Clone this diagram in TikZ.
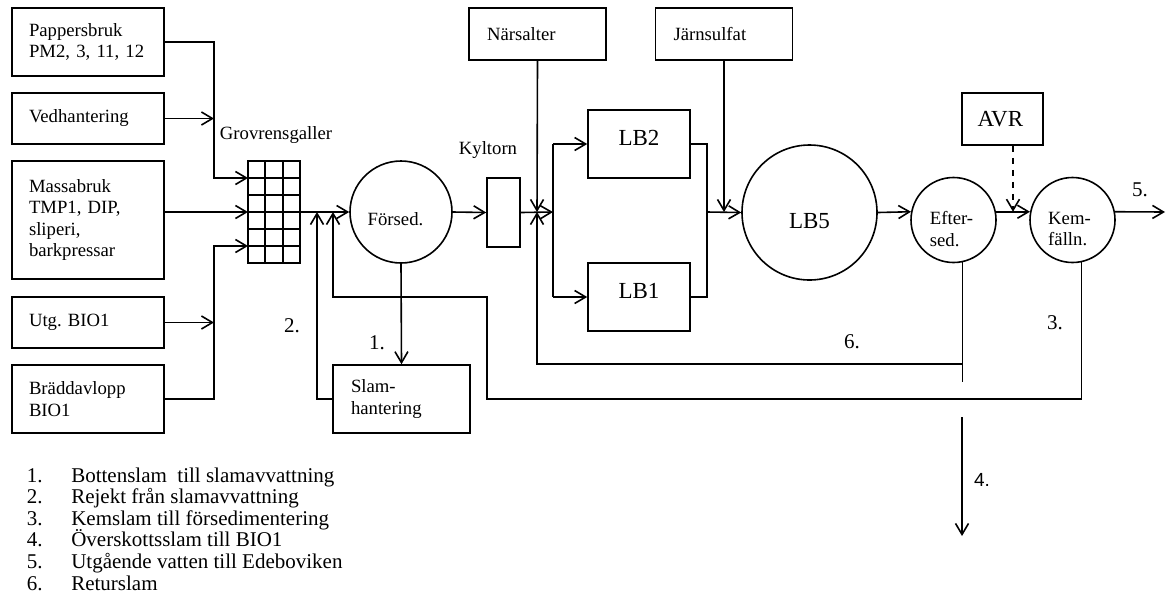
\documentclass[tikz,border=0pt]{standalone}
\usepackage{fontspec}
\setmainfont{Liberation Serif}
\newfontfamily\arialfont{Liberation Sans}
\usetikzlibrary{positioning, arrows.meta}

\tikzset{
  pil/.style={-{Straight Barb[length=5.5pt,width=6.5pt]}},
  kalla/.style={draw, rectangle, minimum width=76pt, minimum height=#1, text width=59pt, inner xsep=8.5pt, align=left},
  tillsats/.style={draw, rectangle, minimum width=68.5pt, minimum height=26pt, text width=50.5pt, inner xsep=9pt, align=left},
  bassang/.style={draw, rectangle, minimum width=51pt, minimum height=34pt, text depth=6pt, font=\fontsize{11.5}{13}\selectfont},
  avrbox/.style={draw, rectangle, minimum width=40.5pt, minimum height=26pt, text width=25pt, inner xsep=7.75pt, align=left, font=\fontsize{11.5}{13}\selectfont},
  rund/.style={draw, circle, minimum size=#1, inner sep=0pt},
  etikett/.style={font=\fontsize{10.5}{12}\selectfont},
  legend/.style={anchor=base west, inner sep=0pt, font=\fontsize{10.5}{12}\selectfont}
}

\begin{document}
\begin{tikzpicture}[x=0.5pt, y=-0.5pt, line width=0.8pt, font=\fontsize{9.35}{10.6}\selectfont]
  \useasboundingbox (0,0) rectangle (1166,606);

  \node[kalla=34pt] (pappers) at (88,42) {Pappersbruk\\PM2, 3, 11, 12};
  \node[kalla=25.5pt] (ved) at (88,118.5) {Vedhantering};
  \node[kalla=59pt] (massa) at (88,220) {Massabruk\\TMP1, DIP,\\sliperi,\\barkpressar};
  \node[kalla=25.5pt] (utg) at (88,322.5) {Utg.\ BIO1};
  \node[kalla=34pt] (bradd) at (88,399) {Bräddavlopp\\BIO1};

  \node[draw, minimum width=26pt, minimum height=51pt, inner sep=0pt] (galler) at (274,212) {};
  \foreach \xx in {265,283} \draw (\xx,161) -- (\xx,263);
  \foreach \yy in {178,195,212,229,246} \draw (248,\yy) -- (300,\yy);
  \node (gallertext) at (276,135) {Grovrensgaller};

  \node[rund=51pt, label={[xshift=-2.75pt, yshift=-3.5pt]center:Försed.}] (forsed) at (401,212) {};
  \node[draw, minimum width=16.5pt, minimum height=34.5pt, inner sep=0pt] (kyl) at (503.5,212.5) {};
  \node (kyltext) at (488,150) {Kyltorn};
  \node[tillsats] (nars) at (537.5,34) {Närsalter};
  \node[tillsats] (jarn) at (724,34) {Järnsulfat};
  \node[bassang] (lb2) at (639,144) {LB2};
  \node[bassang] (lb1) at (639,297) {LB1};
  \node[rund=67.5pt, label={[yshift=-4.5pt, font=\fontsize{11.5}{13}\selectfont]center:LB5}] (lb5) at (809.5,212.5) {};
  \node[rund=42.5pt, label={[align=left, xshift=-1pt, yshift=-4.5pt]center:Efter-\\sed.}] (efter) at (953.5,220) {};
  \node[rund=42.5pt, label={[align=left, xshift=-1.5pt, yshift=-4.5pt]center:Kem-\\fälln.}] (kem) at (1072.5,220) {};
  \node[avrbox] (avr) at (1002.5,119) {AVR};
  \node[tillsats, minimum height=34pt] (slam) at (401.5,399) {Slam-\\hantering};

  \coordinate (g1) at (248,178);
  \coordinate (g3) at (248,212);
  \coordinate (g5) at (248,246);
  \coordinate (samlo) at (214,178);
  \coordinate (samlu) at (214,246);
  \coordinate (delning) at (553,212);
  \coordinate (sammanf) at (707,212);
  \coordinate (retur2) at (317,212);
  \coordinate (retur3) at (333,212);
  \coordinate (retur6) at (537,212);
  \coordinate (r6) at (962,364);
  \coordinate (ut4a) at (962,417);
  \coordinate (ut4b) at (962,536);
  \coordinate (utlopp) at (1165,212);
  \coordinate (avrut) at ([xshift=5.25pt]avr.south);

  \draw[pil] (pappers.east) -| (samlo) -- (g1);
  \draw[pil] (ved.east) -- (ved.east -| samlo);
  \draw[pil] (massa.east |- g3) -- (g3);
  \draw[pil] (utg.east) -- (utg.east -| samlu);
  \draw[pil] (bradd.east) -| (samlu) -- (g5);

  \draw[pil] (galler.east) -- (forsed.west);
  \draw[pil] (forsed.east) -- (kyl.west);
  \draw[pil] (kyl.east) -- (delning);
  \draw (delning |- lb2) -- (delning |- lb1);
  \draw[pil] (delning |- lb2) -- (lb2.west);
  \draw[pil] (delning |- lb1) -- (lb1.west);
  \draw (lb2.east) -| (sammanf) |- (lb1.east);
  \draw[pil] (sammanf) -- (lb5.west);
  \draw[pil] (nars.south) -- (retur6);
  \draw[pil] (jarn.south) -- (jarn.south |- sammanf);
  \draw[pil] (lb5.east) -- (efter.169);
  \draw[pil] (efter.11) -- (kem.169);
  \draw[pil, dashed] (avrut) -- (avrut |- kem.169);
  \draw[pil] (kem.11) -- (utlopp);

  \draw[pil] (forsed.south) -- (slam.north);
  \draw[pil] (slam.west) -| (retur2);
  \draw[pil] (kem.-78) |- (487,399) -- (487,297) -| (retur3);
  \draw (efter.-78) -- ++(0,120);
  \draw[pil] (r6) -| (retur6);
  \draw[pil] (ut4a) -- (ut4b);

  \node[etikett] (n1) at (377,343) {1.};
  \node[etikett] (n2) at (292,326) {2.};
  \node[etikett] (n3) at (1055,323) {3.};
  \node[etikett, font=\arialfont\fontsize{9.5}{11}\selectfont] (n4) at (982,480) {4.};
  \node[etikett] (n5) at (1140,190) {5.};
  \node[etikett] (n6) at (852,342) {6.};

  \foreach \nr/\txt [count=\i] in {1./Bottenslam\ \ till slamavvattning, 2./Rejekt från slamavvattning, 3./Kemslam till försedimentering, 4./Överskottsslam till BIO1, 5./Utgående vatten till Edeboviken, 6./Returslam}
  {
    \node[legend] (nr\i) at (26,{460.4+21.6*\i}) {\nr};
    \node[legend] (leg\i) at (70.5,{460.4+21.6*\i}) {\txt};
  }
\end{tikzpicture}
\end{document}
